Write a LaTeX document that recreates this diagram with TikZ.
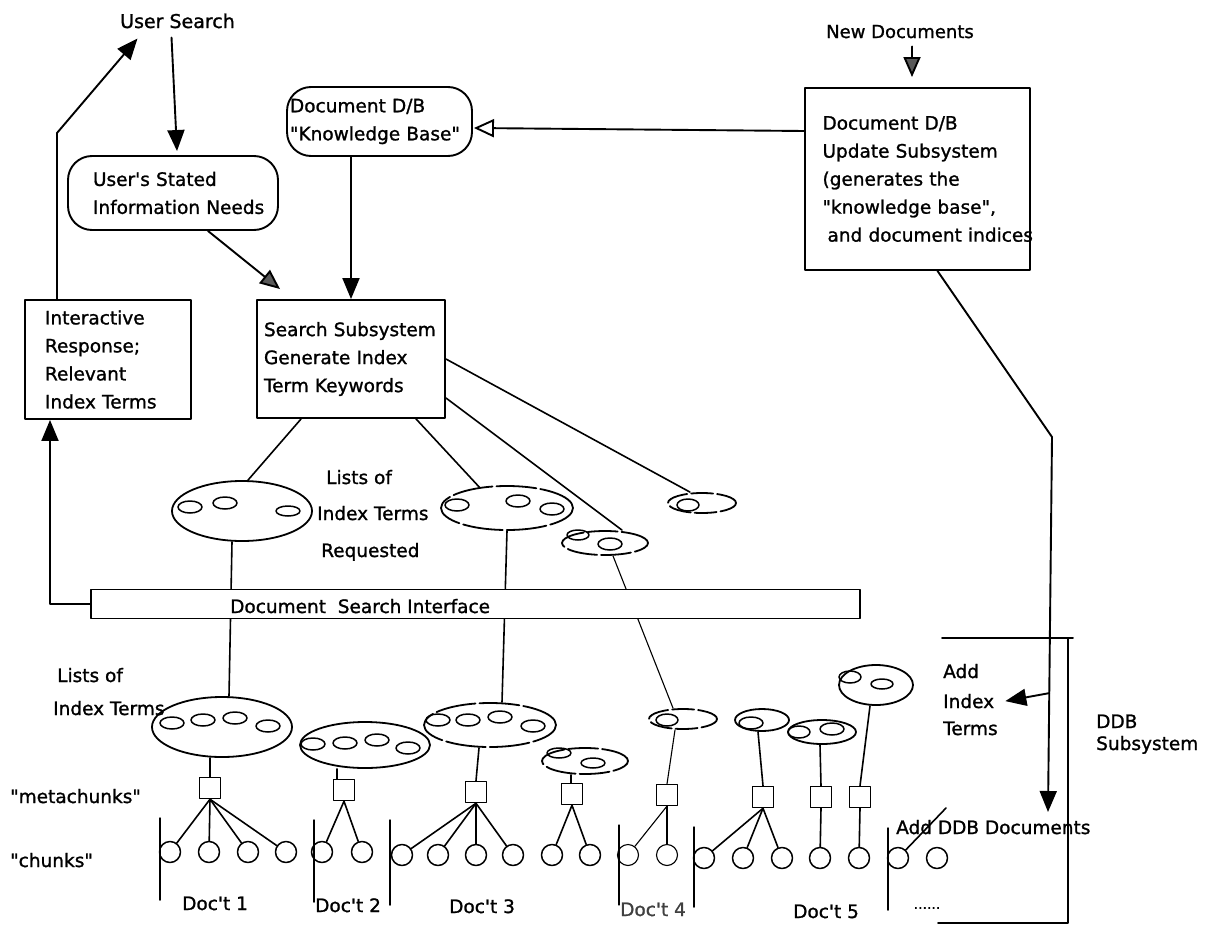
\documentclass[tikz,border=0pt]{standalone}
\usepackage{fontspec}
\setmainfont{DejaVu Sans}[Ligatures=TeXOff, FakeBold=1.2]
\usetikzlibrary{shapes.geometric, arrows.meta, calc}
\newcommand\myfs{\fontsize{18.5}{28}\selectfont}
\tikzset{
  ln/.style={line width=1.9pt},
  tl/.style={line width=1.6pt},
  thin/.style={line width=1.1pt},
  box/.style={draw, line width=1.9pt, rectangle, align=left, font=\myfs, inner sep=0pt},
  rbox/.style={box, rounded corners=24pt},
  lbl/.style={font=\myfs, inner sep=0pt, anchor=base west},
  lst/.style={draw, ellipse, line width=1.8pt, inner sep=0pt},
  dlst/.style={lst, dash pattern=on 40pt off 4pt},
  term/.style={draw, ellipse, line width=1.5pt, inner sep=0pt, minimum width=24pt, minimum height=12pt},
  chunk/.style={draw, circle, line width=1.5pt, inner sep=0pt, minimum size=21pt},
  meta/.style={draw, rectangle, line width=1.5pt, inner sep=0pt, minimum size=21pt},
  docbar/.style={line width=1.5pt},
  arr/.style={-{Triangle[length=21pt,width=17pt]}},
  garr/.style={-{Triangle[length=20pt,width=17pt,fill=black!65]}},
  oarr/.style={-{Triangle[length=20pt,width=18pt,open]}},
}
\begin{document}
\begin{tikzpicture}[x=1pt,y=-1pt,line join=round,line cap=round]
\useasboundingbox (0,0) rectangle (1210,926);

% ---------- top labels and boxes ----------
\node[lbl, font=\fontsize{19}{24}\selectfont] (us) at (120,28) {User Search};
\node[lbl, font=\fontsize{18}{24}\selectfont] (nd) at (826,38) {New Documents};

\node[rbox, minimum width=210pt, minimum height=74pt, text width=160pt] (usn) at (173,193)
  {User's Stated\\\mbox{Information Needs}};
\node[rbox, minimum width=185pt, minimum height=69pt, text width=179pt] (kb) at (379.5,121.5)
  {Document D/B\\\mbox{"Knowledge Base"}};
\node[box, minimum width=225pt, minimum height=182pt, text width=190pt] (ub) at (917.5,179)
  {Document D/B\\Update Subsystem\\(generates the\\"knowledge base",\\\mbox{\hspace{5pt}and document indices}};
\node[box, minimum width=166pt, minimum height=119pt, text width=126pt] (ir) at (108,359.5)
  {Interactive\\Response;\\Relevant\\Index Terms};
\node[box, minimum width=188pt, minimum height=118pt, text width=174pt] (ss) at (351,359)
  {Search Subsystem\\Generate Index\\Term Keywords};

% ---------- top arrows ----------
\draw[ln, arr] ([xshift=-6pt,yshift=-9pt]us.south) -- ([xshift=4pt,yshift=4pt]usn.north);
\coordinate (usbend) at (57,133);
\draw[ln, arr] ([xshift=-51pt]ir.north) -- (usbend) -- ([xshift=-40pt,yshift=-10pt]us.south);
\draw[ln, garr] ([xshift=35pt]usn.south) -- ([xshift=24pt,yshift=10pt]ss.north west);
\draw[ln, arr] (kb.south -| ss.north) -- (ss.north);
\draw[ln, oarr] ([yshift=48pt]ub.west) -- ([xshift=1pt,yshift=-6.5pt]kb.east);
\draw[ln, garr] ([xshift=12pt,yshift=-8pt]nd.south) -- ([xshift=-5.5pt,yshift=10pt]ub.north);

% ---------- requested lists ----------
\node[lst] (A) at (242,511) [minimum width=140pt, minimum height=60pt] {};
\node[term] (tA1) at (190,507) {};
\node[term] (tA2) at (225,503) {};
\node[term, minimum height=10pt] (tA3) at (288,511) {};
\node[dlst] (B) at (507,508) [minimum width=132pt, minimum height=44pt] {};
\node[term] (tB1) at (457,505) {};
\node[term] (tB2) at (518,501) {};
\node[term] (tB3) at (552,509) {};
\node[dlst, dash pattern=on 30pt off 4pt] (D) at (605,543) [minimum width=86pt, minimum height=24pt] {};
\node[term, minimum width=22pt, minimum height=10pt] (tD1) at (578,535) {};
\node[term] (tD2) at (610,544) {};
\node[dlst, dash pattern=on 22pt off 4pt] (E) at (702,503) [minimum width=68pt, minimum height=20pt] {};
\node[term, minimum width=22pt] (tE1) at (688,505) {};

\draw[tl] ([xshift=45pt]ss.south west) -- ([xshift=6pt]A.north);
\draw[tl] ([xshift=160pt]ss.south west) -- (B.143);
\draw[tl] (ss.east) -- ([xshift=-12pt]E.north);
\draw[tl] ([yshift=-39pt]ss.east) -- ([xshift=17pt]D.north);

\node[lbl] (lr1) at (326,484) {Lists of};
\node[lbl] (lr2) at (317,520) {Index Terms};
\node[lbl] (lr3) at (321,557) {Requested};

% ---------- document lists ----------
\node[lbl] (ll1) at (57,682) {Lists of};
\node[lbl] (ll2) at (53,715) {Index Terms};
\node[lbl] (lmc) at (10,803) {"metachunks"};
\node[lbl] (lch) at (10,867) {"chunks"};

\node[lst] (G) at (222,727) [minimum width=140pt, minimum height=60pt] {};
\node[term] (tG1) at (172,723) {};
\node[term] (tG2) at (203,720) {};
\node[term] (tG3) at (235,718) {};
\node[term] (tG4) at (268,726) {};
\node[lst] (H) at (365,745) [minimum width=130pt, minimum height=46pt] {};
\node[term] (tH1) at (313,744) {};
\node[term] (tH2) at (345,743) {};
\node[term] (tH3) at (377,740) {};
\node[term] (tH4) at (408,748) {};
\node[dlst] (I) at (490,725) [minimum width=132pt, minimum height=44pt] {};
\node[term] (tI1) at (438,720) {};
\node[term] (tI2) at (468,720) {};
\node[term] (tI3) at (500,717) {};
\node[term] (tI4) at (533,726) {};
\node[dlst, dash pattern=on 30pt off 4pt] (J) at (585,761) [minimum width=86pt, minimum height=26pt] {};
\node[term, minimum height=10pt] (tJ1) at (559,753) {};
\node[term, minimum height=10pt] (tJ2) at (593,763) {};
\node[dlst, dash pattern=on 22pt off 4pt] (K) at (683,719) [minimum width=68pt, minimum height=20pt] {};
\node[term, minimum width=22pt] (tK1) at (667,720) {};
\node[lst] (L) at (762,720) [minimum width=54pt, minimum height=22pt] {};
\node[term] (tL1) at (751,723) {};
\node[lst] (M) at (822,732) [minimum width=68pt, minimum height=24pt] {};
\node[term, minimum width=22pt] (tM1) at (799,732) {};
\node[term] (tM2) at (832,729) {};
\node[lst] (N) at (876,685) [minimum width=74pt, minimum height=40pt] {};
\node[term, minimum width=22pt] (tN1) at (850,677) {};
\node[term, minimum width=22pt, minimum height=10pt] (tN2) at (882,684) {};

% lines through the search interface bar
\draw[tl] ([xshift=-10pt]A.south) -- ([xshift=7pt]G.north);
\draw[tl] (B.south) -- ([xshift=12pt]I.north);
\draw[thin] ([xshift=8pt]D.south) -- ([xshift=-10pt]K.north);

% ---------- document search interface ----------
\node[draw, line width=1.8pt, fill=white, inner sep=0pt, minimum width=769pt, minimum height=29pt] (dsi) at (475.5,604) {};
\node[lbl] (dsit) at (230,613) {Document\ \ Search Interface};
\draw[ln, arr] (dsi.west) -| ([xshift=-58pt]ir.south);

% ---------- metachunks ----------
\node[meta] (s1) at (210,788) {};
\node[meta] (s2) at (344,790) {};
\node[meta] (s3) at (476,792) {};
\node[meta] (s4) at (572,794) {};
\node[meta, line width=1.1pt] (s5) at (667,795) {};
\node[meta] (s6) at (763,797) {};
\node[meta] (s7) at (821,797) {};
\node[meta] (s8) at (860,797) {};

% ---------- chunks ----------
\foreach \n/\x in {11/170,12/209,13/248,14/286,21/322,22/362}
  \node[chunk] (c\n) at (\x,852) {};
\foreach \n/\x in {31/402,32/438,33/476,34/513,35/552,36/590}
  \node[chunk] (c\n) at (\x,855) {};
\foreach \n/\x in {41/628,42/667}
  \node[chunk, line width=1.1pt] (c\n) at (\x,855) {};
\foreach \n/\x in {51/704,52/743,53/782,54/820,55/859,61/898,62/937}
  \node[chunk] (c\n) at (\x,858) {};

% document separators
\draw[docbar] (160,818) -- (160,900);
\draw[docbar] (314,820) -- (314,902);
\draw[docbar] (390,820) -- (390,905);
\draw[thin] (619,825) -- (619,905);
\draw[docbar] (694,827) -- (694,907);
\draw[docbar] (888,828) -- (888,910);

% list -> metachunk
\draw[tl] ([xshift=-12pt]G.south) -- (s1.north);
\draw[tl] ([xshift=-28pt]H.south) -- ([xshift=-7pt]s2.north);
\draw[tl] ([xshift=-11pt]I.south) -- (s3.north);
\draw[tl] ([xshift=-14pt]J.south) -- ([xshift=-1pt]s4.north);
\draw[thin] ([xshift=-8pt]K.south) -- (s5.north);
\draw[tl] ([xshift=-4pt]L.south) -- (s6.north);
\draw[tl] ([xshift=-2pt]M.south) -- (s7.north);
\draw[tl] ([xshift=-6pt]N.south) -- (s8.north);

% metachunk -> chunks
\foreach \c in {11,12,13,14} \draw[tl] (s1.south) -- (c\c);
\foreach \c in {21,22} \draw[tl] (s2.south) -- (c\c);
\foreach \c in {31,32,33,34} \draw[tl] (s3.south) -- (c\c);
\foreach \c in {35,36} \draw[tl] (s4.south) -- (c\c);
\foreach \c in {41,42} \draw[thin] (s5.south) -- (c\c);
\foreach \c in {51,52,53} \draw[tl] (s6.south) -- (c\c);
\draw[tl] (s7.south) -- (c54);
\draw[tl] (s8.south) -- (c55);

% doc labels
\node[lbl] (d1) at (182,910) {Doc't 1};
\node[lbl] (d2) at (315,912) {Doc't 2};
\node[lbl] (d3) at (449,913) {Doc't 3};
\node[lbl, text=black!75] (d4) at (620,916) {Doc't 4};
\node[lbl] (d5) at (793,918) {Doc't 5};
\node[inner sep=0pt, font=\fontsize{14}{14}\selectfont] (dots) at (927,908) {......};

% ---------- DDB subsystem ----------
\coordinate (bend) at (1052,437);
\coordinate (ddbtip) at (1048,812);
\draw[ln, arr] ([xshift=20pt]ub.south) -- (bend) -- (ddbtip);
\node[lbl] (ait1) at (943,678) {Add};
\node[lbl] (ait2) at (943,708) {Index};
\node[lbl] (ait3) at (943,735) {Terms};
\draw[ln, arr] ($(bend)!0.683!(ddbtip)$) -- ([xshift=11pt]ait2.east);
\node[lbl] (ddb1) at (1096,728) {DDB};
\node[lbl] (ddb2) at (1096,750) {Subsystem};
\node[lbl] (adb) at (896,834) {Add DDB Documents};
\coordinate (addstroke) at (946,808);
\draw[tl] (c61) -- (addstroke);
\coordinate (ddbtl) at (942,638);
\coordinate (ddbtr) at (1073,638);
\coordinate (ddbr) at (1068,638);
\coordinate (ddbbr) at (1068,923);
\coordinate (ddbbl) at (938,923);
\draw[ln] (ddbtl) -- (ddbtr);
\draw[ln] (ddbr) -- (ddbbr) -- (ddbbl);
\end{tikzpicture}
\end{document}
